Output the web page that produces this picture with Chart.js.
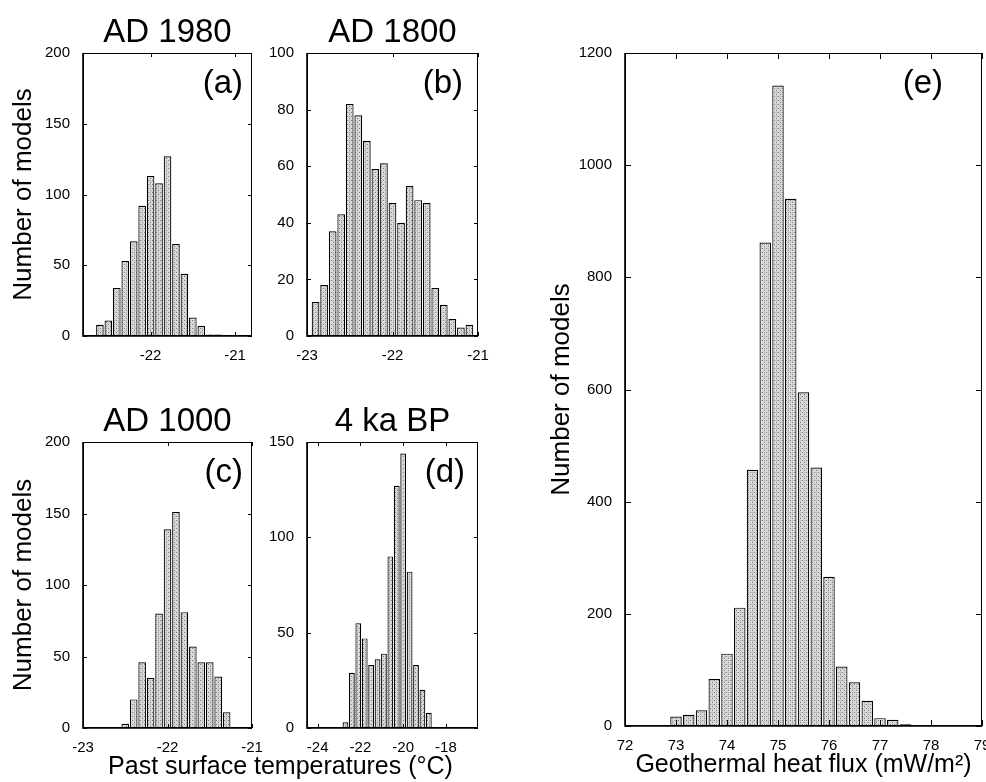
<!DOCTYPE html>
<html>
<head>
<meta charset="utf-8">
<script src="https://cdn.jsdelivr.net/npm/chart.js@4.4.1/dist/chart.umd.min.js"></script>
<style>
  body { margin: 0; background: #fff; width: 986px; height: 782px; position: relative; overflow: hidden;
         font-family: "Liberation Sans", Arial, sans-serif; }
  canvas { position: absolute; }
  #xlabLeft { position: absolute; left: 0; width: 561px; top: 750px; text-align: center; font-size: 25px; line-height: 30px; color: #000; }
</style>
</head>
<body>
<canvas id="ca" width="275" height="376" style="left:0;top:0"></canvas>
<canvas id="cb" width="245" height="376" style="left:255px;top:0"></canvas>
<canvas id="cc" width="275" height="402" style="left:0;top:380px"></canvas>
<canvas id="cd" width="245" height="402" style="left:255px;top:380px"></canvas>
<canvas id="ce" width="456" height="782" style="left:530px;top:0"></canvas>
<div id="xlabLeft">Past surface temperatures (°C)</div>
<script>
// (a) AD 1980
const aBins = [-22.6, -22.5, -22.4, -22.3, -22.2, -22.1, -22.0, -21.9, -21.8, -21.7, -21.6, -21.5, -21.4, -21.3, -21.2];
const aCounts = [8, 11, 34, 53, 67, 92, 113, 108, 127, 65, 44, 13, 7, 1, 1];
const aXTicks = [-22, -21];
const aYTicks = [0, 50, 100, 150, 200];

// (b) AD 1800
const bBins = [-22.9, -22.8, -22.7, -22.6, -22.5, -22.4, -22.3, -22.2, -22.1, -22.0, -21.9, -21.8, -21.7, -21.6, -21.5, -21.4, -21.3, -21.2, -21.1];
const bCounts = [12, 18, 37, 43, 82, 78, 69, 59, 61, 47, 40, 53, 48, 47, 17, 11, 6, 3, 4];
const bXTicks = [-23, -22, -21];
const bYTicks = [0, 20, 40, 60, 80, 100];

// (c) AD 1000
const cBins = [-22.5, -22.4, -22.3, -22.2, -22.1, -22.0, -21.9, -21.8, -21.7, -21.6, -21.5, -21.4, -21.3];
const cCounts = [3, 20, 46, 35, 80, 139, 151, 81, 57, 46, 46, 36, 11];
const cXTicks = [-23, -22, -21];
const cYTicks = [0, 50, 100, 150, 200];

// (d) 4 ka BP
const dBins = [-22.7, -22.4, -22.1, -21.8, -21.5, -21.2, -20.9, -20.6, -20.3, -20.0, -19.7, -19.4, -19.1, -18.8];
const dCounts = [3, 29, 55, 47, 33, 36, 39, 90, 127, 144, 82, 33, 20, 8];
const dXTicks = [-24, -22, -20, -18];
const dYTicks = [0, 50, 100, 150];

// (e) geothermal heat flux
const eBins = [73.0, 73.25, 73.5, 73.75, 74.0, 74.25, 74.5, 74.75, 75.0, 75.25, 75.5, 75.75, 76.0, 76.25, 76.5, 76.75, 77.0, 77.25, 77.5, 77.75];
const eCounts = [17, 20, 28, 84, 129, 211, 457, 862, 1142, 940, 595, 461, 266, 106, 78, 45, 14, 11, 3, 1];
const eXTicks = [72, 73, 74, 75, 76, 77, 78, 79];
const eYTicks = [0, 200, 400, 600, 800, 1000, 1200];

const FONT = '"Liberation Sans", Arial, sans-serif';

// stippled grey fill like the printed bars
function stipple() {
  const c = document.createElement('canvas');
  c.width = 4; c.height = 4;
  const g = c.getContext('2d');
  g.fillStyle = '#d8d8d8';
  g.fillRect(0, 0, 4, 4);
  g.fillStyle = '#7c7c7c';
  g.fillRect(0, 0, 1, 1);
  g.fillRect(2, 2, 1, 1);
  g.fillStyle = '#ababab';
  g.fillRect(2, 0, 1, 1);
  return g.createPattern(c, 'repeat');
}

// box round the plot with inward ticks on all four sides
const boxTicks = {
  id: 'boxTicks',
  afterDatasetsDraw(chart, args, o) {
    const { ctx, chartArea: a, scales: { x, y } } = chart;
    const len = o.len || 4;
    ctx.save();
    ctx.strokeStyle = '#000';
    ctx.lineWidth = 1;
    ctx.beginPath();
    x.ticks.forEach(t => {
      const px = Math.round(x.getPixelForValue(t.value)) + 0.5;
      ctx.moveTo(px, a.bottom); ctx.lineTo(px, a.bottom - len);
      ctx.moveTo(px, a.top); ctx.lineTo(px, a.top + len);
    });
    y.ticks.forEach(t => {
      const py = Math.round(y.getPixelForValue(t.value)) + 0.5;
      ctx.moveTo(a.left, py); ctx.lineTo(a.left + len, py);
      ctx.moveTo(a.right, py); ctx.lineTo(a.right - len, py);
    });
    ctx.stroke();
    ctx.strokeRect(a.left + 0.5, a.top + 0.5, a.width - 1, a.height - 1);
    ctx.lineWidth = 1.6;
    ctx.beginPath();
    ctx.moveTo(a.left, a.top); ctx.lineTo(a.left, a.bottom); ctx.lineTo(a.right, a.bottom);
    ctx.stroke();
    ctx.restore();
  }
};

// panel title above and letter in the top right corner
const panelText = {
  id: 'panelText',
  afterDraw(chart, args, o) {
    const { ctx, chartArea: a } = chart;
    ctx.save();
    ctx.fillStyle = '#000';
    ctx.font = '33px ' + FONT;
    ctx.textBaseline = 'alphabetic';
    if (o.title) {
      ctx.textAlign = 'center';
      ctx.fillText(o.title, (a.left + a.right) / 2, a.top - 11);
    }
    ctx.textAlign = 'right';
    ctx.fillText(o.letter, a.right - o.dx, a.top + 40);
    ctx.restore();
  }
};

function makePanel(id, bins, counts, xr, yr, xTicks, yTicks, box, text) {
  const pattern = stipple();
  return new Chart(document.getElementById(id), {
    type: 'bar',
    data: {
      datasets: [{
        data: bins.map((b, i) => ({ x: b, y: counts[i] })),
        backgroundColor: pattern,
        borderColor: '#000',
        borderWidth: 1.2,
        borderSkipped: 'bottom',
        categoryPercentage: 1,
        barPercentage: 0.9
      }]
    },
    options: {
      responsive: false,
      animation: false,
      layout: { padding: { left: 0, top: box.pt, right: box.pr, bottom: 0 } },
      plugins: { legend: { display: false }, tooltip: { enabled: false }, panelText: text, boxTicks: { len: box.tl } },
      scales: {
        x: {
          type: 'linear', min: xr[0], max: xr[1], offset: false,
          grid: { display: false }, border: { display: false },
          afterBuildTicks: s => { s.ticks = xTicks.map(v => ({ value: v })); },
          afterFit: s => { s.height = box.xh; s.paddingLeft = 0; s.paddingRight = 0; },
          ticks: { autoSkip: false, maxRotation: 0, padding: 3, color: '#000',
                   font: { family: FONT, size: 15 }, callback: v => String(v) },
          title: box.xTitle ? { display: true, text: box.xTitle, color: '#000',
                   font: { family: FONT, size: 25 }, padding: { top: 0, bottom: 2 } } : { display: false }
        },
        y: {
          type: 'linear', min: yr[0], max: yr[1],
          grid: { display: false }, border: { display: false },
          afterBuildTicks: s => { s.ticks = yTicks.map(v => ({ value: v })); },
          afterFit: s => { s.width = box.yw; s.paddingTop = 0; s.paddingBottom = 0; },
          ticks: { autoSkip: false, padding: 5, color: '#000',
                   font: { family: FONT, size: 15 }, callback: v => String(v) },
          title: box.yTitle ? { display: true, text: 'Number of models', color: '#000',
                   font: { family: FONT, size: 26 }, padding: { top: box.yTitlePad, bottom: 0 } } : { display: false }
        }
      }
    },
    plugins: [boxTicks, panelText]
  });
}

makePanel('ca', aBins, aCounts, [-22.8, -20.8], [0, 200], aXTicks, aYTicks,
  { pt: 53, pr: 23, yw: 83, xh: 40, tl: 4, yTitle: true, yTitlePad: 8 },
  { title: 'AD 1980', letter: '(a)', dx: 9 });
makePanel('cb', bBins, bCounts, [-23, -21], [0, 100], bXTicks, bYTicks,
  { pt: 53, pr: 22, yw: 52, xh: 40, tl: 4 },
  { title: 'AD 1800', letter: '(b)', dx: 15 });
makePanel('cc', cBins, cCounts, [-23, -21], [0, 200], cXTicks, cYTicks,
  { pt: 62, pr: 23, yw: 83, xh: 54, tl: 4, yTitle: true, yTitlePad: 8 },
  { title: 'AD 1000', letter: '(c)', dx: 9 });
makePanel('cd', dBins, dCounts, [-24.5, -16.5], [0, 150], dXTicks, dYTicks,
  { pt: 62, pr: 22, yw: 52, xh: 54, tl: 4 },
  { title: '4 ka BP', letter: '(d)', dx: 13 });
makePanel('ce', eBins, eCounts, [72, 79], [0, 1200], eXTicks, eYTicks,
  { pt: 53, pr: 4, yw: 95, xh: 56, tl: 6, yTitle: true, yTitlePad: 16, xTitle: 'Geothermal heat flux (mW/m²)' },
  { title: '', letter: '(e)', dx: 39 });
</script>
</body>
</html>
